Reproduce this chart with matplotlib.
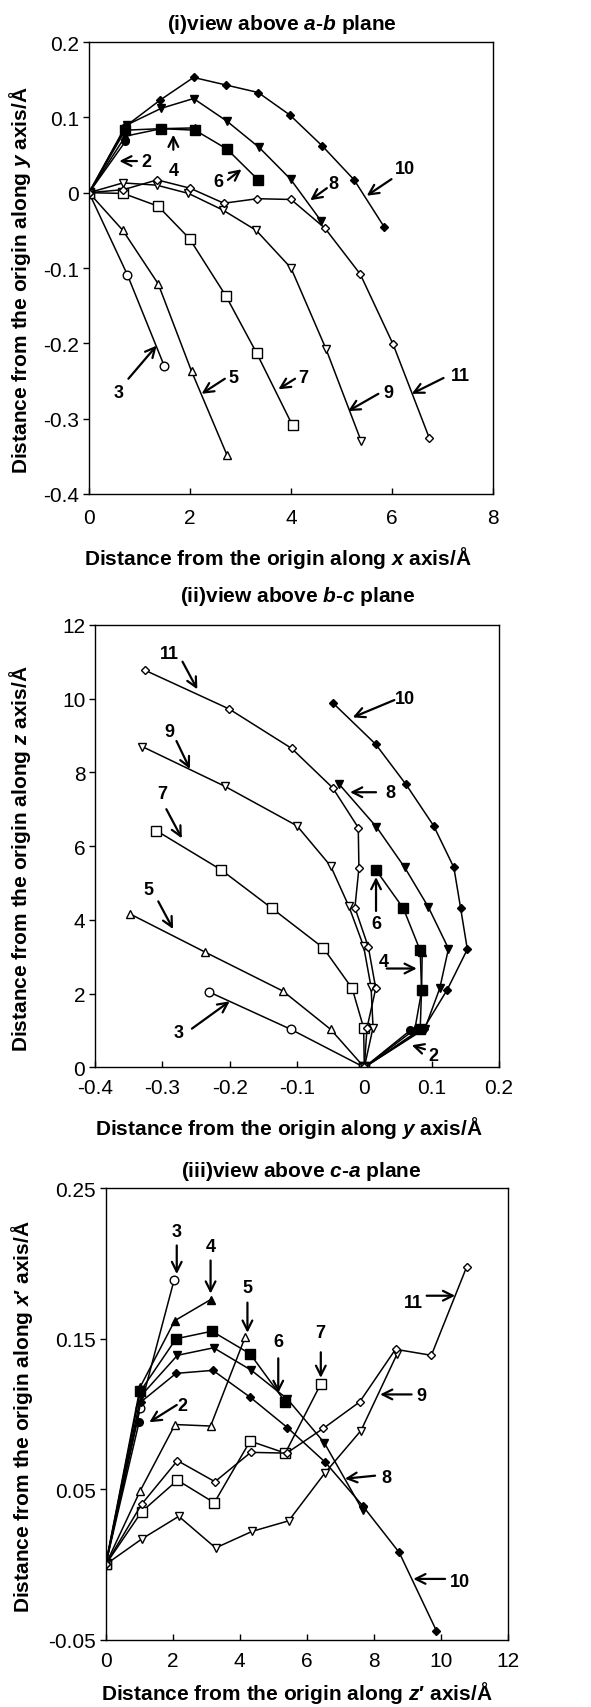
import matplotlib
matplotlib.use("Agg")
import matplotlib.pyplot as plt

plt.rcParams['font.family'] = ['Liberation Sans', 'DejaVu Sans']
plt.rcParams['mathtext.fontset'] = 'custom'
plt.rcParams['mathtext.rm'] = 'Liberation Sans:bold'
plt.rcParams['mathtext.it'] = 'Liberation Sans:italic:bold'
plt.rcParams['mathtext.bf'] = 'Liberation Sans:bold'

series_ids = [2, 3, 4, 5, 6, 7, 8, 9, 10, 11]

# distance from the origin along x (panel i, horizontal)
x_dist = {
    2: [0, 0.72],
    3: [0, 0.76, 1.49],
    4: [0, 0.72, 1.43, 2.10],
    5: [0, 0.67, 1.37, 2.03, 2.73],
    6: [0, 0.72, 1.43, 2.10, 2.73, 3.35],
    7: [0, 0.68, 1.37, 1.99, 2.71, 3.32, 4.03],
    8: [0, 0.75, 1.43, 2.07, 2.73, 3.37, 3.99, 4.59],
    9: [0, 0.67, 1.34, 1.97, 2.65, 3.31, 4.00, 4.69, 5.39],
    10: [0, 0.72, 1.41, 2.07, 2.71, 3.35, 3.98, 4.62, 5.25, 5.85],
    11: [0, 0.68, 1.35, 2.00, 2.67, 3.33, 4.00, 4.67, 5.37, 6.02, 6.74],
}

# distance along y (panel i vertical, panel ii horizontal)
y_dist = {
    2: [0, 0.068],
    3: [0, -0.109, -0.230],
    4: [0, 0.075, 0.085, 0.086],
    5: [0, -0.050, -0.121, -0.237, -0.348],
    6: [0, 0.083, 0.085, 0.083, 0.058, 0.017],
    7: [0, -0.001, -0.018, -0.061, -0.137, -0.213, -0.309],
    8: [0, 0.090, 0.112, 0.125, 0.095, 0.060, 0.018, -0.037],
    9: [0, 0.013, 0.010, -0.001, -0.023, -0.050, -0.100, -0.207, -0.330],
    10: [0, 0.088, 0.123, 0.153, 0.143, 0.133, 0.103, 0.062, 0.017, -0.046],
    11: [0, 0.004, 0.017, 0.006, -0.014, -0.008, -0.009, -0.047, -0.108, -0.201, -0.326],
}

# distance along z (panel ii vertical, panel iii horizontal)
z_dist = {
    2: [0, 1.00],
    3: [0, 1.03, 2.04],
    4: [0, 1.03, 2.06, 3.13],
    5: [0, 1.03, 2.07, 3.13, 4.16],
    6: [0, 1.03, 2.10, 3.17, 4.31, 5.36],
    7: [0, 1.07, 2.14, 3.24, 4.31, 5.36, 6.42],
    8: [0, 1.05, 2.14, 3.22, 4.35, 5.42, 6.52, 7.67],
    9: [0, 1.08, 2.18, 3.28, 4.37, 5.46, 6.55, 7.62, 8.70],
    10: [0, 1.05, 2.10, 3.20, 4.32, 5.42, 6.55, 7.67, 8.76, 9.87],
    11: [0, 1.07, 2.14, 3.26, 4.33, 5.40, 6.50, 7.58, 8.65, 9.72, 10.77],
}

# distance along x' (panel iii vertical)
xp_dist = {
    2: [0, 0.095],
    3: [0, 0.104, 0.189],
    4: [0, 0.118, 0.162, 0.176],
    5: [0, 0.049, 0.093, 0.092, 0.151],
    6: [0, 0.115, 0.150, 0.155, 0.140, 0.108],
    7: [0, 0.035, 0.056, 0.041, 0.082, 0.074, 0.120],
    8: [0, 0.112, 0.139, 0.144, 0.129, 0.110, 0.081, 0.036],
    9: [0, 0.017, 0.032, 0.011, 0.022, 0.029, 0.061, 0.089, 0.140],
    10: [0, 0.108, 0.127, 0.129, 0.111, 0.091, 0.068, 0.039, 0.008, -0.044],
    11: [0, 0.040, 0.069, 0.055, 0.0745, 0.074, 0.0905, 0.108, 0.143, 0.139, 0.1975],
}

# even series are filled, odd are open
marker_shape = {2: 'o', 3: 'o', 4: '^', 5: '^', 6: 's', 7: 's',
                8: 'v', 9: 'v', 10: 'D', 11: 'D'}
marker_size = {2: 5.5, 3: 6.2, 4: 6, 5: 5.5, 6: 7, 7: 6.7,
               8: 6, 9: 5.5, 10: 4, 11: 3.7}

# label text position, arrow tail, arrow tip (data coords)
notes_i = [
    ('2', (1.13, 0.042), (0.95, 0.042), (0.60, 0.042)),
    ('4', (1.67, 0.030), (1.67, 0.057), (1.67, 0.077)),
    ('6', (2.56, 0.015), (2.75, 0.017), (3.02, 0.031)),
    ('8', (4.83, 0.012), (4.71, 0.006), (4.38, -0.010)),
    ('10', (6.26, 0.032), (5.99, 0.018), (5.50, -0.004)),
    ('3', (0.58, -0.265), (0.78, -0.247), (1.34, -0.203)),
    ('5', (2.86, -0.245), (2.69, -0.247), (2.23, -0.267)),
    ('7', (4.24, -0.245), (4.08, -0.247), (3.75, -0.261)),
    ('9', (5.93, -0.265), (5.73, -0.267), (5.13, -0.290)),
    ('11', (7.35, -0.243), (7.02, -0.246), (6.39, -0.267)),
]
notes_ii = [
    ('11', (-0.289, 11.21), (-0.270, 11.0), (-0.248, 10.25)),
    ('10', (0.0605, 10.01), (0.0446, 9.96), (-0.0172, 9.49)),
    ('9', (-0.289, 9.11), (-0.279, 8.85), (-0.259, 8.09)),
    ('8', (0.038, 7.46), (0.0174, 7.46), (-0.0212, 7.46)),
    ('7', (-0.300, 7.42), (-0.294, 7.0), (-0.271, 6.21)),
    ('5', (-0.320, 4.83), (-0.306, 4.5), (-0.284, 3.75)),
    ('3', (-0.276, 0.94), (-0.256, 1.05), (-0.200, 1.79)),
    ('6', (0.0174, 3.89), (0.0174, 4.24), (0.0174, 5.16)),
    ('4', (0.0282, 2.88), (0.0333, 2.68), (0.0779, 2.68)),
    ('2', (0.1025, 0.31), (0.090, 0.49), (0.0705, 0.60)),
]
notes_iii = [
    ('3', (2.12, 0.221), (2.12, 0.212), (2.12, 0.193)),
    ('4', (3.13, 0.211), (3.13, 0.202), (3.13, 0.180)),
    ('5', (4.23, 0.184), (4.23, 0.174), (4.23, 0.154)),
    ('6', (5.15, 0.148), (5.15, 0.137), (5.15, 0.114)),
    ('7', (6.40, 0.154), (6.42, 0.141), (6.42, 0.124)),
    ('11', (9.18, 0.174), (9.58, 0.1786), (10.43, 0.1786)),
    ('9', (9.43, 0.112), (9.13, 0.113), (8.19, 0.113)),
    ('2', (2.30, 0.1055), (2.12, 0.106), (1.30, 0.0945)),
    ('8', (8.39, 0.058), (8.04, 0.059), (7.14, 0.057)),
    ('10', (10.58, -0.011), (10.13, -0.0096), (9.18, -0.0096)),
]


def draw_series(ax, hor, ver):
    for s in series_ids:
        filled = (s % 2 == 0)
        ax.plot(hor[s], ver[s], color='black', lw=1.1,
                marker=marker_shape[s], ms=marker_size[s],
                mfc='black' if filled else 'white', mec='black', mew=1.0)


def draw_notes(ax, notes):
    for label, txt, tail, tip in notes:
        ax.annotate('', xy=tip, xytext=tail,
                    arrowprops=dict(arrowstyle='->,head_length=0.7,head_width=0.35',
                                    lw=1.6, color='black', shrinkA=0, shrinkB=0,
                                    mutation_scale=10))
        ax.text(txt[0], txt[1], label, ha='center', va='center',
                fontsize=13, fontweight='bold')


def style_axes(ax):
    for sp in ax.spines.values():
        sp.set_linewidth(1.0)
    ax.tick_params(axis='y', direction='out', length=4, width=1, labelsize=15, pad=3)
    ax.tick_params(axis='x', direction='in', length=4, width=1, labelsize=15)


def set_labels(ax, xlabel, ylabel, xpos, ypos):
    ax.set_xlabel(xlabel, fontsize=15, fontweight='bold', va='center')
    ax.xaxis.set_label_coords(*xpos)
    ax.set_ylabel(ylabel, fontsize=15, fontweight='bold')
    ax.yaxis.set_label_coords(*ypos)


fig = plt.figure(figsize=(5.91, 17.08), dpi=100)

# (i) view above a-b plane
ax1 = fig.add_axes([0.1506, 0.7102, 0.6836, 0.2646])
draw_series(ax1, x_dist, y_dist)
draw_notes(ax1, notes_i)
ax1.set_xlim(0, 8)
ax1.set_ylim(-0.4, 0.2)
ax1.set_xticks([0, 2, 4, 6, 8], ['0', '2', '4', '6', '8'])
ax1.set_yticks([-0.4, -0.3, -0.2, -0.1, 0, 0.1, 0.2],
               ['-0.4', '-0.3', '-0.2', '-0.1', '0', '0.1', '0.2'])
style_axes(ax1)
ax1.tick_params(axis='x', pad=10)
ax1.text(0.478, 1.040, r'(i)view above $a$-$b$ plane', transform=ax1.transAxes,
         ha='center', va='center', fontsize=15, fontweight='bold')
set_labels(ax1, r'Distance from the origin along $x$ axis/Å',
           r'Distance from the origin along $y$ axis/Å',
           (0.468, -0.139), (-0.139, 0.476))

# (ii) view above b-c plane
ax2 = fig.add_axes([0.1607, 0.3745, 0.6836, 0.2591])
draw_series(ax2, y_dist, z_dist)
draw_notes(ax2, notes_ii)
ax2.set_xlim(-0.4, 0.2)
ax2.set_ylim(0, 12)
ax2.set_xticks([-0.4, -0.3, -0.2, -0.1, 0, 0.1, 0.2],
               ['-0.4', '-0.3', '-0.2', '-0.1', '0', '0.1', '0.2'])
ax2.set_yticks([0, 2, 4, 6, 8, 10, 12], ['0', '2', '4', '6', '8', '10', '12'])
style_axes(ax2)
ax2.tick_params(axis='x', pad=8)
ax2.text(0.502, 1.0655, r'(ii)view above $b$-$c$ plane', transform=ax2.transAxes,
         ha='center', va='center', fontsize=15, fontweight='bold')
set_labels(ax2, r'Distance from the origin along $y$ axis/Å',
           r'Distance from the origin along $z$ axis/Å',
           (0.48, -0.1356), (-0.153, 0.473))

# (iii) view above c-a plane
ax3 = fig.add_axes([0.1789, 0.0394, 0.6802, 0.2643])
draw_series(ax3, z_dist, xp_dist)
draw_notes(ax3, notes_iii)
ax3.set_xlim(0, 12)
ax3.set_ylim(-0.05, 0.25)
ax3.set_xticks([0, 2, 4, 6, 8, 10, 12], ['0', '2', '4', '6', '8', '10', '12'])
ax3.set_yticks([-0.05, 0.05, 0.15, 0.25], ['-0.05', '0.05', '0.15', '0.25'])
style_axes(ax3)
ax3.tick_params(axis='x', pad=8)
ax3.text(0.486, 1.039, r'(iii)view above $c$-$a$ plane', transform=ax3.transAxes,
         ha='center', va='center', fontsize=15, fontweight='bold')
set_labels(ax3, 'Distance from the origin along $z$′ axis/Å',
           'Distance from the origin along $x$′ axis/Å',
           (0.476, -0.116), (-0.176, 0.497))

fig.savefig('out.png', dpi=100)
